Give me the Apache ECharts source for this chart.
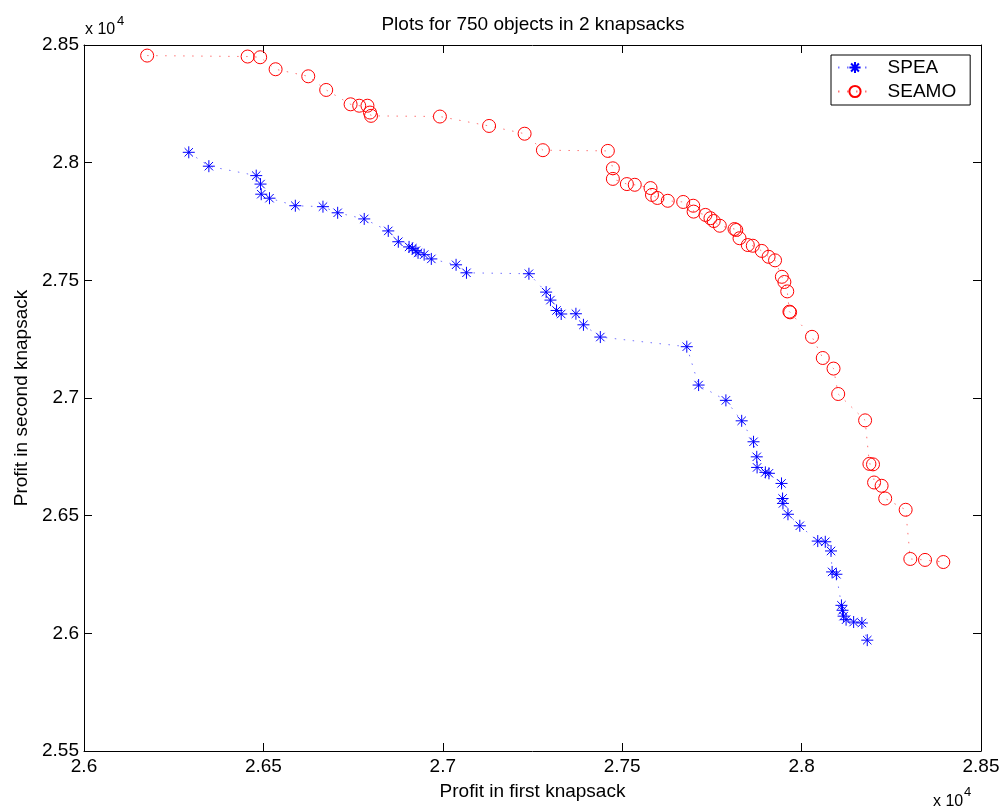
<!DOCTYPE html>
<html>
<head>
<meta charset="utf-8">
<script src="https://cdn.jsdelivr.net/npm/echarts@6/dist/echarts.min.js"></script>
<style>
  html, body { margin: 0; padding: 0; background: #fff; }
  #knapsackPlot { width: 1003px; height: 812px; }
</style>
</head>
<body>
<div id="knapsackPlot"></div>
<script>
// values (profit units, axes shown as x 10^4)
const speaX = [26292, 26348, 26480, 26492, 26494, 26517, 26589, 26666, 26707, 26781,
  26848, 26876, 26906, 26915, 26925, 26931, 26948, 26968, 27037, 27066,
  27240, 27288, 27300, 27317, 27330, 27371, 27392, 27439, 27680, 27713,
  27789, 27833, 27866, 27875, 27876, 27899, 27909, 27944, 27947, 27948,
  27962, 27995, 28045, 28066, 28082, 28085, 28097, 28111, 28114, 28117,
  28124, 28145, 28168, 28183];
const speaY = [28044, 27985, 27945, 27909, 27866, 27849, 27817, 27813, 27787, 27761,
  27710, 27664, 27642, 27636, 27626, 27617, 27609, 27591, 27566, 27532,
  27528, 27450, 27416, 27372, 27357, 27358, 27311, 27259, 27218, 27055,
  26990, 26903, 26814, 26750, 26705, 26684, 26680, 26637, 26573, 26552,
  26506, 26457, 26392, 26389, 26350, 26261, 26251, 26119, 26098, 26073,
  26058, 26048, 26044, 25971];

const seamoX = [26176, 26456, 26491, 26534, 26625, 26675, 26743, 26767, 26790, 26797,
  26800, 26992, 27129, 27228, 27279, 27460, 27474, 27474, 27513, 27535,
  27579, 27583, 27598, 27627, 27670, 27698, 27699, 27732, 27746, 27755,
  27772, 27813, 27818, 27827, 27850, 27864, 27889, 27908, 27926, 27945,
  27952, 27960, 27966, 27968, 28029, 28059, 28089, 28102, 28177, 28189,
  28199, 28202, 28223, 28233, 28290, 28303, 28344, 28395];
const seamoY = [28455, 28451, 28448, 28397, 28367, 28309, 28248, 28242, 28242, 28213,
  28199, 28196, 28156, 28123, 28053, 28050, 27976, 27931, 27909, 27906,
  27892, 27863, 27850, 27838, 27833, 27817, 27792, 27778, 27764, 27752,
  27732, 27718, 27714, 27679, 27650, 27647, 27625, 27600, 27585, 27515,
  27493, 27453, 27367, 27364, 27260, 27170, 27125, 27017, 26905, 26720,
  26718, 26641, 26627, 26573, 26525, 26316, 26312, 26303];

const xTicks = { min: 26000, max: 28500, step: 500 };
const yTicks = { min: 25500, max: 28500, step: 500 };

const FONT = "'Liberation Sans', Arial, Helvetica, sans-serif";

function pairs(xs, ys) {
  return xs.map((x, i) => [x, ys[i]]);
}

function tickLabel(v) {
  return String(parseFloat((v / 1e4).toFixed(2)));
}

const chart = echarts.init(document.getElementById('knapsackPlot'));

const boxAxis = {
  type: 'value',
  axisLine: { show: true, onZero: false, lineStyle: { color: '#000', width: 1 } },
  axisTick: { show: true, inside: true, length: 8, lineStyle: { color: '#000', width: 1 } },
  axisLabel: { show: false },
  splitLine: { show: false },
};

const option = {
  animation: false,
  backgroundColor: '#fff',
  textStyle: { fontFamily: FONT, color: '#000' },
  grid: { left: 84, right: 22, top: 45, bottom: 61 },
  legend: {
    data: ['SPEA', 'SEAMO'],
    orient: 'vertical',
    left: 831,
    top: 55,
    backgroundColor: '#fff',
    borderColor: '#000',
    borderWidth: 1,
    borderRadius: 0,
    padding: [3, 14, 4, 6],
    itemGap: 5,
    itemWidth: 34,
    itemHeight: 14,
    formatter: (name) => '  ' + name,
    textStyle: { fontSize: 19, fontFamily: FONT, color: '#000' },
  },
  xAxis: [
    {
      type: 'value',
      min: xTicks.min,
      max: xTicks.max,
      interval: xTicks.step,
      name: 'Profit in first knapsack',
      nameLocation: 'middle',
      nameGap: 31,
      nameTextStyle: { fontSize: 19, fontFamily: FONT, color: '#000' },
      axisLine: { show: true, onZero: false, lineStyle: { color: '#000', width: 1 } },
      axisTick: { show: true, inside: true, length: 8, lineStyle: { color: '#000', width: 1 } },
      axisLabel: { formatter: tickLabel, fontSize: 19, color: '#000', margin: 6 },
      splitLine: { show: false },
    },
    Object.assign({}, boxAxis, {
      position: 'top', min: xTicks.min, max: xTicks.max, interval: xTicks.step,
    }),
  ],
  yAxis: [
    {
      type: 'value',
      min: yTicks.min,
      max: yTicks.max,
      interval: yTicks.step,
      name: 'Profit in second knapsack',
      nameLocation: 'middle',
      nameGap: 47,
      nameTextStyle: { fontSize: 19, fontFamily: FONT, color: '#000' },
      axisLine: { show: true, onZero: false, lineStyle: { color: '#000', width: 1 } },
      axisTick: { show: true, inside: true, length: 8, lineStyle: { color: '#000', width: 1 } },
      axisLabel: { formatter: tickLabel, fontSize: 19, color: '#000', margin: 5 },
      splitLine: { show: false },
    },
    Object.assign({}, boxAxis, {
      position: 'right', min: yTicks.min, max: yTicks.max, interval: yTicks.step,
    }),
  ],
  graphic: [
    {
      type: 'text', x: 533, y: 25,
      style: { text: 'Plots for 750 objects in 2 knapsacks', fontSize: 19, fontFamily: FONT, fill: '#000', align: 'center', verticalAlign: 'middle' },
    },
    {
      type: 'text', x: 85, y: 30,
      style: { text: 'x 10', fontSize: 16, fontFamily: FONT, fill: '#000', align: 'left', verticalAlign: 'middle' },
    },
    {
      type: 'text', x: 117, y: 21,
      style: { text: '4', fontSize: 13, fontFamily: FONT, fill: '#000', align: 'left', verticalAlign: 'middle' },
    },
    {
      type: 'text', x: 933, y: 802,
      style: { text: 'x 10', fontSize: 16, fontFamily: FONT, fill: '#000', align: 'left', verticalAlign: 'middle' },
    },
    {
      type: 'text', x: 964, y: 792,
      style: { text: '4', fontSize: 13, fontFamily: FONT, fill: '#000', align: 'left', verticalAlign: 'middle' },
    },
  ],
  series: [
    {
      name: 'SPEA',
      type: 'line',
      data: pairs(speaX, speaY),
      showAllSymbol: true,
      symbol: 'path://M0,-10 L0,10 M-10,0 L10,0 M-7,-7 L7,7 M-7,7 L7,-7',
      symbolSize: 12,
      itemStyle: { color: 'none', borderColor: '#0000ff', borderWidth: 1 },
      lineStyle: { color: 'rgba(0,0,255,0.55)', width: 1, type: [1.5, 7.5] },
      emphasis: { disabled: true },
    },
    {
      name: 'SEAMO',
      type: 'line',
      data: pairs(seamoX, seamoY),
      showAllSymbol: true,
      symbol: 'circle',
      symbolSize: 13,
      itemStyle: { color: 'none', borderColor: '#ff0000', borderWidth: 1 },
      lineStyle: { color: 'rgba(255,0,0,0.55)', width: 1, type: [1.5, 7.5] },
      emphasis: { disabled: true },
    },
  ],
};

chart.setOption(option);
</script>
</body>
</html>
